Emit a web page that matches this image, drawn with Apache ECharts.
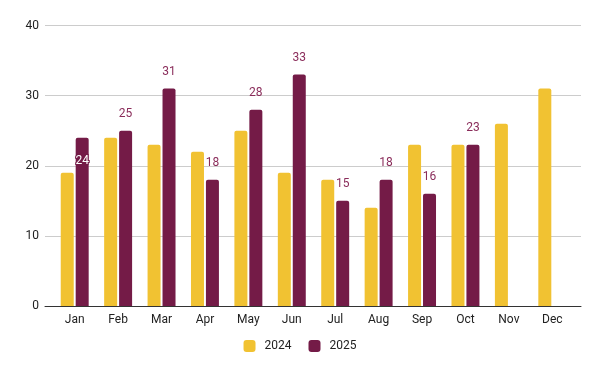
<!DOCTYPE html>
<html><head><meta charset="utf-8">
<script src="https://cdn.jsdelivr.net/npm/echarts@6/dist/echarts.min.js"></script>
<style>html,body{margin:0;padding:0;background:#fff}#c{width:600px;height:371px}</style>
</head><body><div id="c"></div>
<script>
const categories = ['Jan','Feb','Mar','Apr','May','Jun','Jul','Aug','Sep','Oct','Nov','Dec'];
const values2024 = [19,24,23,22,25,19,18,14,23,23,26,31];
const values2025 = [24,25,31,18,28,33,15,18,16,23,null,null];
const yTicks = [0,10,20,30,40];

const chart = echarts.init(document.getElementById('c'), null, {renderer:'canvas'});
const font = 'Roboto, "Noto Sans", sans-serif';
const data2025 = values2025.map((v,i) => {
  if (i === 0) return {value:v, label:{position:'insideTop', distance:17, color:'#ffffff', textBorderColor:'#741b47', textBorderWidth:2}};
  return v;
});
chart.setOption({
  animation:false,
  textStyle:{fontFamily:font},
  legend:{bottom:14, left:'center', itemWidth:12, itemHeight:12, itemGap:17,
    icon:'roundRect', textStyle:{fontSize:12, color:'#222', fontFamily:font, padding:[0,0,0,4]},
    data:['2024','2025']},
  grid:[
    {left:45, right:19, top:25.5, bottom:65, containLabel:false},
    {left:53, right:26, top:25.5, bottom:65, containLabel:false}
  ],
  xAxis:[
    {gridIndex:0, type:'category', data:categories, axisLine:{show:true, lineStyle:{color:'#333', width:1}},
     axisTick:{show:false}, axisLabel:{show:false}},
    {gridIndex:1, type:'category', data:categories, axisLine:{show:false}, axisTick:{show:false},
     axisLabel:{color:'#222', fontSize:12, margin:8, fontFamily:font}}
  ],
  yAxis:[
    {gridIndex:0, type:'value', min:yTicks[0], max:yTicks[yTicks.length-1], interval:10,
     axisLine:{show:false}, axisTick:{show:false},
     axisLabel:{color:'#222', fontSize:12, margin:6, fontFamily:font},
     splitLine:{lineStyle:{color:'#cccccc', width:1}}},
    {gridIndex:1, type:'value', min:yTicks[0], max:yTicks[yTicks.length-1], interval:10, show:false}
  ],
  series:[
    {name:'2024', type:'bar', xAxisIndex:1, yAxisIndex:1, data:values2024, barWidth:13, barGap:'15%',
     itemStyle:{color:'#f1c232', borderRadius:[2,2,0,0]}},
    {name:'2025', type:'bar', xAxisIndex:1, yAxisIndex:1, data:data2025, barWidth:13, barGap:'15%',
     itemStyle:{color:'#741b47', borderRadius:[2,2,0,0]},
     label:{show:true, position:'top', distance:11, color:'#8a2c5a', fontSize:12, fontFamily:font}}
  ]
});
</script></body></html>
